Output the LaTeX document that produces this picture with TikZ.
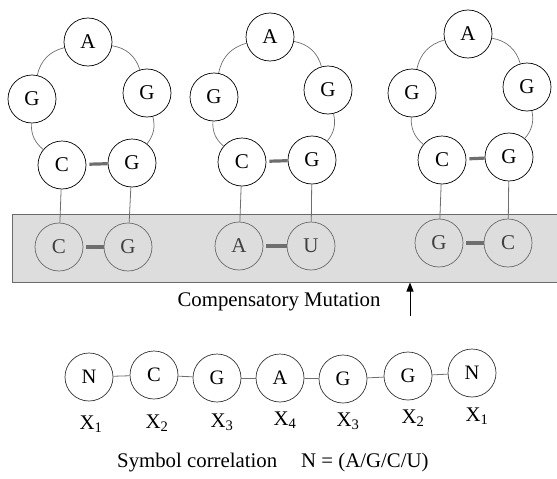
\documentclass[tikz,border=0pt]{standalone}
\usepackage{fontspec}
\setmainfont{Liberation Serif}
\usetikzlibrary{arrows.meta}
\definecolor{boxfill}{HTML}{DDDDDD}
\definecolor{boxline}{HTML}{6A6A6A}
\definecolor{linkc}{HTML}{6E6E6E}
\begin{document}
\begin{tikzpicture}[x=1pt,y=-1pt,
  nuc/.style={circle,draw=black,line width=0.7pt,fill=white,minimum size=48pt,inner sep=0pt,font=\fontsize{21}{21}\selectfont},
  lownuc/.style={circle,draw=boxline,line width=0.7pt,minimum size=48pt,inner sep=0pt,text=black!75,font=\fontsize{21}{21}\selectfont},
  chainnuc/.style={circle,draw=black!80,line width=0.7pt,fill=white,minimum size=48pt,inner sep=0pt,font=\fontsize{20.5}{20.5}\selectfont},
  ring/.style={draw=linkc,line width=0.7pt},
  pairbar/.style={draw=linkc,line width=3.2pt},
  stem/.style={draw=linkc,line width=0.8pt},
  lbl/.style={inner sep=0pt,font=\fontsize{20.8}{20.8}\selectfont}
]
\useasboundingbox (0,0) rectangle (557,479);
% gray box
\fill[boxfill] (12,214) rectangle (557,282);
\draw[boxline,line width=0.8pt] (557,214) -- (12,214) -- (12,282) -- (557,282);

% structure 1
\node[nuc] (a1) at (88,42) {A};
\node[nuc] (gl1) at (32,99) {G};
\node[nuc] (gr1) at (147,93) {G};
\node[nuc] (c1) at (62,165) {C};
\node[nuc] (g1) at (132,163) {G};
\node[lownuc] (lc1) at (59,247) {C};
\node[lownuc] (lg1) at (128,247) {G};
% structure 2
\node[nuc] (a2) at (270,37) {A};
\node[nuc] (gl2) at (214,97) {G};
\node[nuc] (gr2) at (328,90) {G};
\node[nuc] (c2) at (242,162) {C};
\node[nuc] (g2) at (312,160) {G};
\node[lownuc] (la2) at (239,246) {A};
\node[lownuc] (lu2) at (311,246) {U};
% structure 3
\node[nuc] (a3) at (468,34) {A};
\node[nuc] (gl3) at (412,93) {G};
\node[nuc] (gr3) at (527,87) {G};
\node[nuc] (c3) at (442,160) {C};
\node[nuc] (g3) at (509,157) {G};
\node[lownuc] (lg3) at (439,243) {G};
\node[lownuc] (lc3) at (508,243) {C};

\foreach \i in {1,2,3}{
  \draw[ring] (a\i) to[bend right=32] (gl\i);
  \draw[ring] (a\i) to[bend left=32] (gr\i);
  \draw[ring] (gl\i) to[bend right=26] (c\i);
  \draw[ring] (gr\i) to[bend left=26] (g\i);
  \draw[pairbar,shorten <=3pt] (c\i) -- (g\i);
}
\draw[stem] (c1) -- (lc1); \draw[stem] (g1) -- (lg1);
\draw[stem] (c2) -- (la2); \draw[stem] (g2) -- (lu2);
\draw[stem] (c3) -- (lg3); \draw[stem] (g3) -- (lc3);
\draw[pairbar,shorten <=3pt] (lc1) -- (lg1);
\draw[pairbar,shorten <=3pt] (la2) -- (lu2);
\draw[pairbar,shorten <=3pt] (lg3) -- (lc3);

% mutation label and arrow
\node[lbl] (cm) at (279,302) {Compensatory Mutation};
\coordinate (arrtail) at (410,316);
\coordinate (arrhead) at (410,282.5);
\draw[-{Triangle[length=9pt,width=7pt]},line width=1pt] (arrtail) -- (arrhead);

% chain
\node[chainnuc] (n1) at (89,377) {N};
\node[chainnuc] (n2) at (154,375) {C};
\node[chainnuc] (n3) at (217,378) {G};
\node[chainnuc] (n4) at (280,378) {A};
\node[chainnuc] (n5) at (343,379) {G};
\node[chainnuc] (n6) at (408,376) {G};
\node[chainnuc] (n7) at (472,373) {N};
\foreach \a/\b in {n1/n2,n2/n3,n3/n4,n4/n5,n5/n6,n6/n7}
  \draw[stem] (\a) -- (\b);

\node[lbl] (x1) at (91,424) {X\textsubscript{1}};
\node[lbl] (x2) at (157,423) {X\textsubscript{2}};
\node[lbl] (x3) at (222,422) {X\textsubscript{3}};
\node[lbl] (x4) at (285,420) {X\textsubscript{4}};
\node[lbl] (x5) at (348,421) {X\textsubscript{3}};
\node[lbl] (x6) at (413,418) {X\textsubscript{2}};
\node[lbl] (x7) at (477,416) {X\textsubscript{1}};

\node[lbl,anchor=west] (sym) at (117,463) {Symbol correlation\hspace{24pt}N = (A/G/C/U)};
\end{tikzpicture}
\end{document}
